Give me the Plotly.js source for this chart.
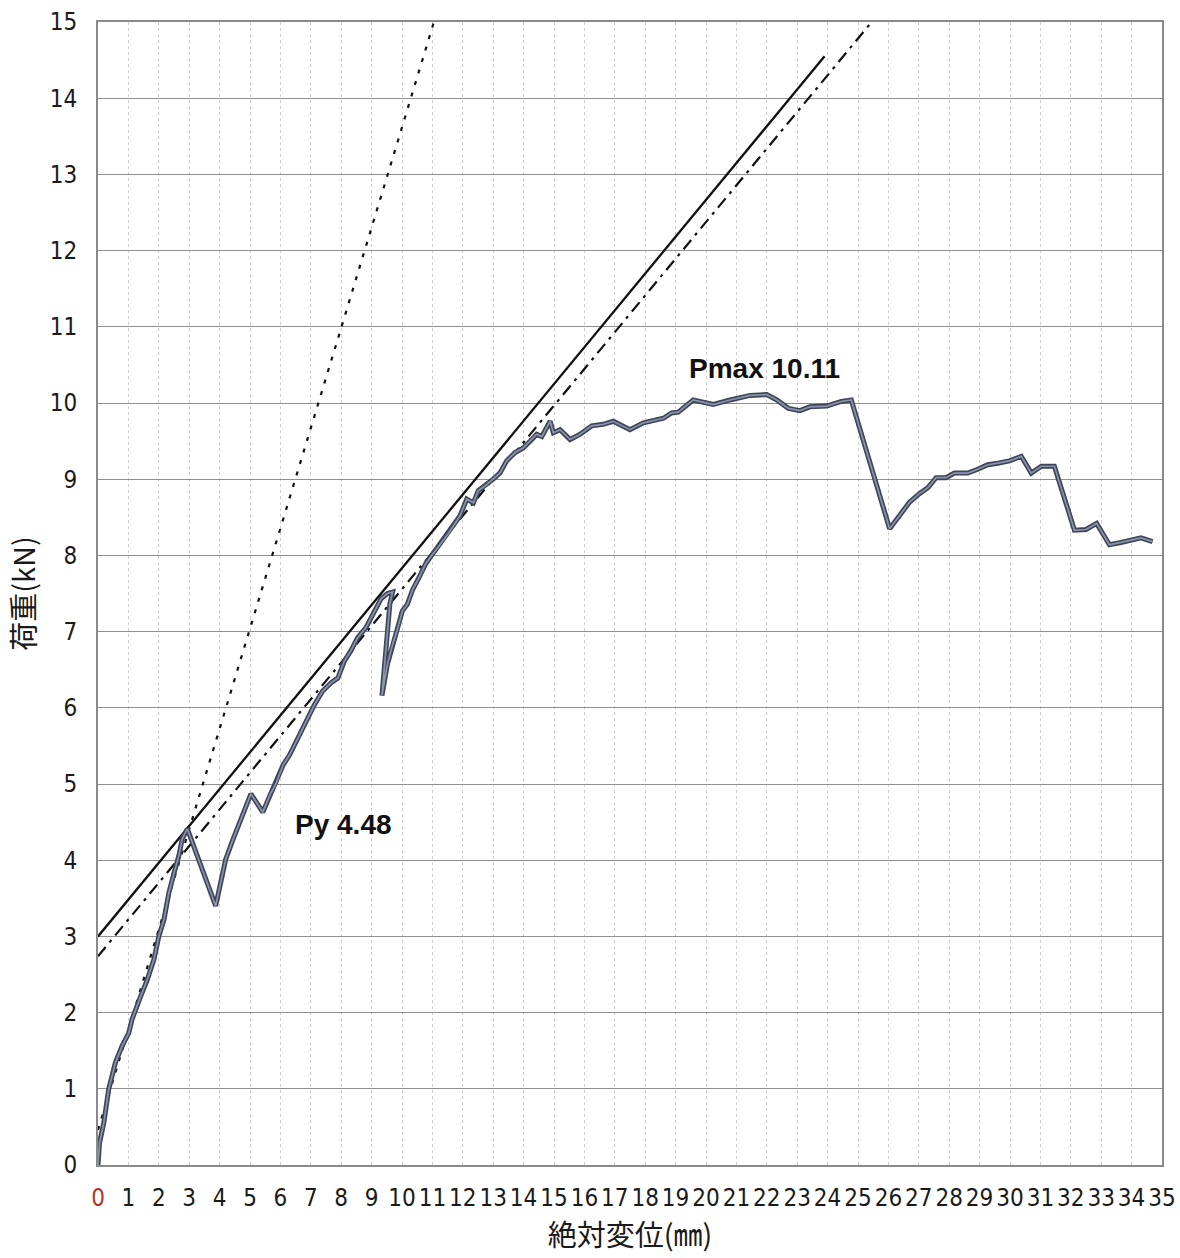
<!DOCTYPE html>
<html>
<head>
<meta charset="utf-8">
<script src="https://cdn.plot.ly/plotly-3.0.1.min.js"></script>
<style>html,body{margin:0;padding:0;background:#fff;}#chart{width:1180px;height:1258px;}</style>
</head>
<body>
<div id="chart"></div>
<script>
// Load-displacement curve (絶対変位 mm, 荷重 kN)
const dispX = [0,0.05,0.19,0.35,0.57,0.79,1.01,1.12,1.40,1.62,1.84,2.0,2.17,2.33,2.5,2.66,2.77,2.94,3.87,4.2,4.42,4.75,5.03,5.42,5.67,5.85,6.09,6.30,6.52,6.74,6.96,7.12,7.39,7.67,7.89,8.10,8.32,8.54,8.81,9.09,9.31,9.52,9.69,9.6,9.34,9.52,9.69,9.85,10.01,10.18,10.34,10.56,10.78,10.94,11.2,11.55,11.91,12.13,12.35,12.51,12.73,13.0,13.22,13.44,13.72,13.99,14.27,14.43,14.6,14.87,14.98,15.2,15.53,15.86,16.24,16.62,16.95,17.5,17.94,18.16,18.6,18.87,19.09,19.58,20.24,20.79,21.45,22.0,22.33,22.71,23.09,23.42,23.97,24.45,24.78,26.04,26.37,26.70,27.02,27.30,27.57,27.90,28.17,28.61,28.94,29.27,29.60,29.98,30.37,30.70,31.03,31.46,32.12,32.50,32.85,33.27,33.65,33.98,34.31,34.69];
const loadY = [0,0.29,0.55,0.99,1.34,1.56,1.73,1.91,2.21,2.43,2.70,3.0,3.22,3.57,3.83,4.06,4.28,4.41,3.4,4.01,4.25,4.58,4.87,4.63,4.87,5.0,5.25,5.38,5.56,5.73,5.91,6.04,6.22,6.33,6.39,6.61,6.75,6.92,7.05,7.27,7.43,7.50,7.52,7.36,6.16,6.57,6.83,7.03,7.27,7.36,7.54,7.71,7.89,7.98,8.12,8.3,8.52,8.74,8.69,8.85,8.91,9.0,9.08,9.24,9.35,9.41,9.52,9.59,9.56,9.76,9.61,9.65,9.52,9.59,9.70,9.72,9.76,9.65,9.74,9.76,9.80,9.87,9.88,10.04,9.98,10.04,10.10,10.11,10.04,9.93,9.90,9.95,9.96,10.02,10.04,8.35,8.52,8.70,8.81,8.89,9.02,9.02,9.08,9.08,9.13,9.19,9.21,9.24,9.30,9.08,9.17,9.17,8.33,8.34,8.42,8.14,8.17,8.20,8.23,8.18];

// Construction lines (end points)
const solidX = [0, 23.9];
const solidY = [3.0, 14.55];
const dashDotX = [0, 25.45];
const dashDotY = [2.74, 15];
const dottedX = [0, 11.05];
const dottedY = [0.46, 15];

// Annotations
const labelText = ["Pmax 10.11", "Py 4.48"];
const labelX = [21.94, 8.06];
const labelY = [10.45, 4.47];

// Ticks
const xTickVals = Array.from({length: 36}, (_, i) => i);
const xTickText = xTickVals.map(v => v === 0 ? '<span style="color:#b5372c">0</span>' : String(v));
const yTickVals = Array.from({length: 16}, (_, i) => i);

const traces = [
  {x: dottedX, y: dottedY, mode: 'lines', line: {color: '#111', width: 2.2, dash: '4px,8px'}, hoverinfo: 'skip'},
  {x: dashDotX, y: dashDotY, mode: 'lines', line: {color: '#111', width: 2.2, dash: '12px,6px,3px,6px'}, hoverinfo: 'skip'},
  {x: solidX, y: solidY, mode: 'lines', line: {color: '#111', width: 2.3}, hoverinfo: 'skip'},
  {x: dispX, y: loadY, mode: 'lines', line: {color: '#3f4659', width: 5}},
  {x: dispX, y: loadY, mode: 'lines', line: {color: '#8a94ab', width: 1.7}}
];

const tickFont = {family: '"Liberation Sans Narrow", "DejaVu Sans Condensed", "Liberation Sans", sans-serif', size: 24, color: '#1a1a1a'};

const layout = {
  width: 1180, height: 1258,
  margin: {l: 98, r: 18, t: 22, b: 93},
  paper_bgcolor: '#fff', plot_bgcolor: '#fff',
  showlegend: false,
  xaxis: {
    range: [0, 35], tickvals: xTickVals, ticktext: xTickText, tickangle: 0,
    showgrid: true, gridcolor: '#cfcfcf', gridwidth: 1, griddash: '3px,3px',
    showline: true, linecolor: '#8a8a8a', linewidth: 2, mirror: true,
    zeroline: false, ticks: '', tickfont: tickFont, ticklabelstandoff: 10,
    title: {text: '絶対変位(㎜)', font: {family: '"Noto Sans CJK JP", sans-serif', size: 29, color: '#1a1a1a'}, standoff: 14},
    automargin: false
  },
  yaxis: {
    range: [0, 15], tickvals: yTickVals,
    showgrid: true, gridcolor: '#8f8f8f', gridwidth: 1,
    showline: true, linecolor: '#8a8a8a', linewidth: 2, mirror: true,
    zeroline: false, ticks: '', tickfont: tickFont, ticklabelstandoff: 14,
    title: {text: '荷重(kN)', font: {family: '"Noto Sans CJK JP", sans-serif', size: 29, color: '#1a1a1a'}, standoff: 6},
    automargin: false
  },
  annotations: labelText.map((t, i) => ({
    x: labelX[i], y: labelY[i], xref: 'x', yref: 'y', text: t, showarrow: false,
    font: {family: '"Liberation Sans", Arial, sans-serif', size: 28, color: '#111', weight: 'bold'}
  }))
};

Plotly.newPlot('chart', traces, layout, {displayModeBar: false, staticPlot: true});
</script>
</body>
</html>
